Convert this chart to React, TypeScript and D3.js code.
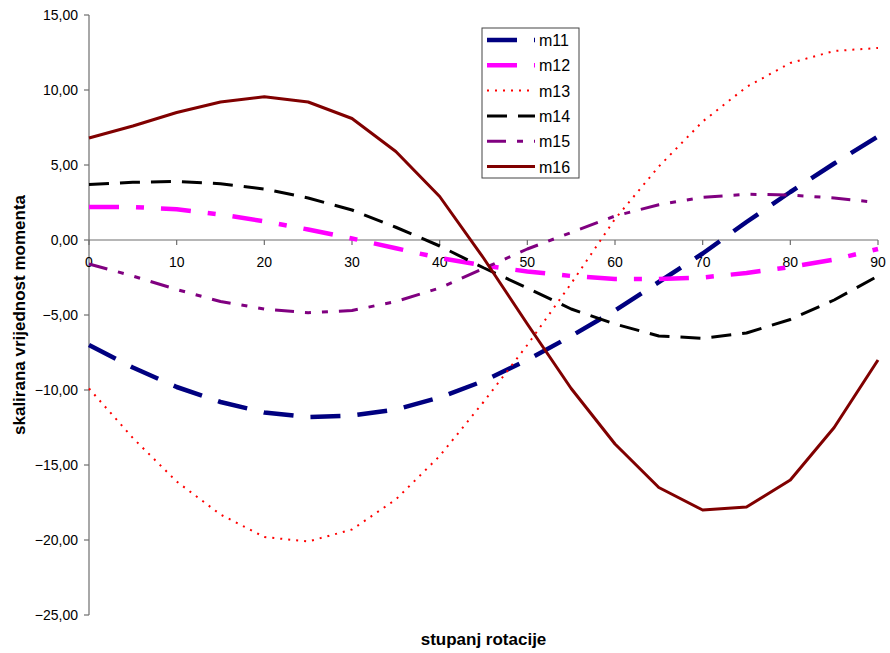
import React from "react";
import * as d3 from "d3";

const angles = [0, 5, 10, 15, 20, 25, 30, 35, 40, 45, 50, 55, 60, 65, 70, 75, 80, 85, 90];
const m11 = [-7.0, -8.5, -9.8, -10.8, -11.5, -11.8, -11.7, -11.3, -10.5, -9.4, -8.0, -6.4, -4.7, -2.8, -0.9, 1.2, 3.2, 5.1, 6.9];
const m12 = [2.2, 2.2, 2.05, 1.7, 1.25, 0.7, 0.1, -0.55, -1.2, -1.7, -2.1, -2.4, -2.6, -2.6, -2.5, -2.2, -1.8, -1.3, -0.6];
const m13 = [-9.9, -13.2, -16.1, -18.3, -19.8, -20.1, -19.3, -17.3, -14.4, -10.8, -7.0, -2.9, 1.4, 4.9, 7.9, 10.2, 11.8, 12.6, 12.8];
const m14 = [3.7, 3.85, 3.9, 3.75, 3.4, 2.8, 2.0, 0.85, -0.4, -1.85, -3.2, -4.6, -5.6, -6.4, -6.55, -6.2, -5.3, -4.0, -2.4];
const m15 = [-1.6, -2.4, -3.3, -4.1, -4.6, -4.85, -4.7, -4.1, -3.2, -1.9, -0.6, 0.5, 1.6, 2.35, 2.85, 3.05, 3.0, 2.8, 2.5];
const m16 = [6.8, 7.6, 8.5, 9.2, 9.55, 9.2, 8.1, 5.9, 2.9, -1.2, -5.6, -9.9, -13.6, -16.5, -18.0, -17.8, -16.0, -12.5, -8.0];

const seriesNames = ["m11", "m12", "m13", "m14", "m15", "m16"];
const seriesValues = [m11, m12, m13, m14, m15, m16];
const xTicks = [0, 10, 20, 30, 40, 50, 60, 70, 80, 90];
const yTicks = [15, 10, 5, 0, -5, -10, -15, -20, -25];
const xTitle = "stupanj rotacije";
const yTitle = "skalirana vrijednost momenta";

const styles = [
  { color: "#000080", width: 4.5, dash: "30,17" },
  { color: "#FF00FF", width: 4.5, dash: "30,17,8,17" },
  { color: "#FF0000", width: 2, dash: "2,6" },
  { color: "#000000", width: 3, dash: "20,11" },
  { color: "#800080", width: 3, dash: "19,11,6,11,6,11" },
  { color: "#800000", width: 3, dash: "" },
];

const FONT = "'Liberation Sans', Arial, Helvetica, sans-serif";

export default function App() {
  const W = 890, H = 653;
  const x = d3.scaleLinear().domain([0, 90]).range([89, 878]);
  const y = d3.scaleLinear().domain([-25, 15]).range([615, 15]);
  const line = d3.line<[number, number]>().x((d) => x(d[0])).y((d) => y(d[1]));
  const axisColor = "#6e6e6e";

  const legX = 482, legY = 28, legW = 97, legH = 150;
  const rowY0 = 40, rowStep = 25.3;

  return (
    <svg width={W} height={H} style={{ position: "absolute", left: 0, top: 0, background: "#fff" }} fontFamily={FONT}>
      <rect x={0} y={0} width={W} height={H} fill="#fff" />
      {/* y axis */}
      <line x1={x(0)} x2={x(0)} y1={y(15)} y2={y(-25)} stroke={axisColor} strokeWidth={1.2} />
      {yTicks.map((t) => (
        <g key={"y" + t}>
          <line x1={x(0) - 5} x2={x(0)} y1={y(t)} y2={y(t)} stroke={axisColor} strokeWidth={1.2} />
          <text x={78} y={y(t)} dy="0.36em" textAnchor="end" fontSize={14} fill="#000">
            {d3.format(".2f")(t).replace(".", ",")}
          </text>
        </g>
      ))}
      {/* x axis at zero */}
      <line x1={x(0)} x2={x(90)} y1={y(0)} y2={y(0)} stroke={axisColor} strokeWidth={1.2} />
      {xTicks.map((t) => (
        <g key={"x" + t}>
          <line x1={x(t)} x2={x(t)} y1={y(0)} y2={y(0) + 5} stroke={axisColor} strokeWidth={1.2} />
          <text x={x(t)} y={267} textAnchor="middle" fontSize={14} fill="#000">
            {t}
          </text>
        </g>
      ))}
      {/* series */}
      {seriesValues.map((vals, i) => (
        <path
          key={seriesNames[i]}
          d={line(angles.map((a, j) => [a, vals[j]] as [number, number])) || ""}
          fill="none"
          stroke={styles[i].color}
          strokeWidth={styles[i].width}
          strokeDasharray={styles[i].dash || undefined}
          strokeLinejoin="round"
        />
      ))}
      {/* titles */}
      <text x={(x(0) + x(90)) / 2} y={645} textAnchor="middle" fontSize={17} fontWeight="bold" fill="#000">
        {xTitle}
      </text>
      <text
        transform={`translate(25, ${(y(15) + y(-25)) / 2}) rotate(-90)`}
        textAnchor="middle"
        fontSize={17}
        fontWeight="bold"
        fill="#000"
      >
        {yTitle}
      </text>
      {/* legend */}
      <rect x={legX} y={legY} width={legW} height={legH} fill="#fff" stroke="#444" strokeWidth={1} />
      {seriesNames.map((n, i) => {
        const cy = rowY0 + i * rowStep;
        return (
          <g key={"leg" + n}>
            <line
              x1={487}
              x2={535}
              y1={cy}
              y2={cy}
              stroke={styles[i].color}
              strokeWidth={styles[i].width}
              strokeDasharray={styles[i].dash || undefined}
            />
            <text x={539} y={cy + 6} fontSize={16} fill="#000">
              {n}
            </text>
          </g>
        );
      })}
    </svg>
  );
}
